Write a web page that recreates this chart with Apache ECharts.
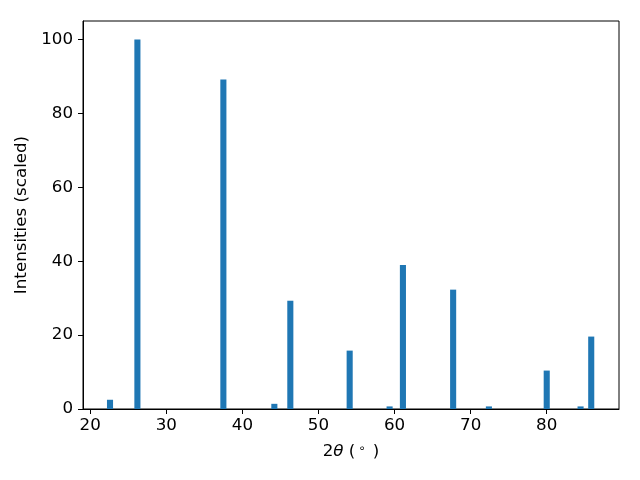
<!DOCTYPE html>
<html>
<head>
<meta charset="utf-8">
<script src="https://cdn.jsdelivr.net/npm/echarts@6/dist/echarts.min.js"></script>
<style>html,body{margin:0;padding:0;background:#fff;}#c{width:640px;height:480px;}</style>
</head>
<body>
<div id="c"></div>
<script>
const twoTheta = [22.6, 26.2, 37.5, 44.2, 46.3, 54.1, 59.35, 61.1, 67.7, 72.4, 80.0, 84.45, 85.85];
const intensities = [2.5, 100, 89.2, 1.4, 29.3, 15.8, 0.7, 39.0, 32.3, 0.7, 10.4, 0.7, 19.6];
const xTicks = [20, 30, 40, 50, 60, 70, 80];
const yTicks = [0, 20, 40, 60, 80, 100];

const BAR_W = 0.8;
const FONT = 'DejaVu Sans';
const FS = 16.7;
const chart = echarts.init(document.getElementById('c'), null, {renderer: 'canvas'});
const data = twoTheta.map((x, i) => [x, intensities[i]]);

chart.setOption({
  backgroundColor: '#fff',
  animation: false,
  grid: {left: 83, right: 21, top: 21, bottom: 71, show: true, borderColor: '#000', borderWidth: 1, backgroundColor: 'transparent'},
  xAxis: {
    type: 'value', min: 19.05, max: 89.5,
    name: '{n|2}{i|θ}{n| (}{s|∘}{n| )}', nameLocation: 'middle', nameGap: 34,
    nameTextStyle: {
      rich: {
        n: {fontFamily: FONT, fontSize: FS, color: '#000'},
        i: {fontFamily: FONT, fontSize: FS, fontStyle: 'italic', color: '#000'},
        s: {fontFamily: FONT, fontSize: 11.5, color: '#000', verticalAlign: 'top', padding: [0, 2, 6, 3]}
      }
    },
    axisLine: {show: true, onZero: false, lineStyle: {color: '#000', width: 1}},
    axisTick: {show: true, length: 5, customValues: xTicks, lineStyle: {color: '#000'}},
    axisLabel: {customValues: xTicks, fontFamily: FONT, fontSize: FS, color: '#000', margin: 8},
    splitLine: {show: false}
  },
  yAxis: {
    type: 'value', min: 0, max: 105,
    name: 'Intensities (scaled)', nameLocation: 'middle', nameGap: 47,
    nameTextStyle: {fontFamily: FONT, fontSize: FS, color: '#000'},
    axisLine: {show: true, lineStyle: {color: '#000', width: 1}},
    axisTick: {show: true, length: 5, customValues: yTicks, lineStyle: {color: '#000'}},
    axisLabel: {customValues: yTicks, fontFamily: FONT, fontSize: FS, color: '#000', margin: 10},
    splitLine: {show: false}
  },
  series: [{
    type: 'custom',
    data: data,
    encode: {x: 0, y: 1},
    renderItem: function (params, api) {
      const x = api.value(0), y = api.value(1);
      const p1 = api.coord([x - BAR_W / 2, y]);
      const p2 = api.coord([x + BAR_W / 2, 0]);
      return {
        type: 'rect',
        shape: {x: p1[0], y: p1[1], width: p2[0] - p1[0], height: p2[1] - p1[1]},
        style: {fill: '#1f77b4'}
      };
    }
  }]
});
</script>
</body>
</html>
